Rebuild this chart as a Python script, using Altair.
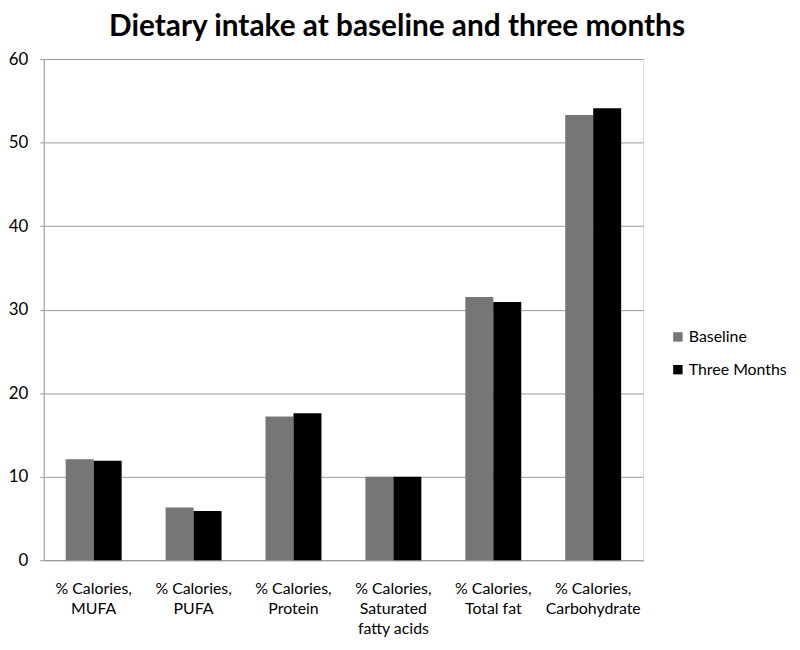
import altair as alt
import pandas as pd

categories = ["% Calories,\nMUFA", "% Calories,\nPUFA", "% Calories,\nProtein",
              "% Calories,\nSaturated\nfatty acids", "% Calories,\nTotal fat",
              "% Calories,\nCarbohydrate"]
series = ["Baseline", "Three Months"]
baseline = [12.1, 6.3, 17.2, 10.0, 31.5, 53.3]
three_months = [11.9, 5.9, 17.6, 10.0, 30.9, 54.1]

rows = []
for c, b, t in zip(categories, baseline, three_months):
    rows.append({"cat": c, "series": "Baseline", "value": b})
    rows.append({"cat": c, "series": "Three Months", "value": t})
df = pd.DataFrame(rows)

FONT = "Lato"

chart = alt.Chart(df).mark_bar().encode(
    x=alt.X("cat:N", sort=categories, title=None,
            scale=alt.Scale(paddingInner=0.44, paddingOuter=0.22),
            axis=alt.Axis(labelExpr="split(datum.label, '\\n')", labelAngle=0,
                          ticks=False, labelPadding=21, labelFontSize=16,
                          labelLineHeight=20, labelColor="#000", domainColor="#9a9a9a",
                          labelFont=FONT, labelBaseline="top")),
    xOffset=alt.XOffset("series:N", sort=series),
    y=alt.Y("value:Q", title=None,
            scale=alt.Scale(domain=[0, 60]),
            axis=alt.Axis(values=[0, 10, 20, 30, 40, 50, 60], tickSize=4, labelPadding=12,
                          labelFontSize=17, labelColor="#000", labelFont=FONT,
                          domainColor="#9a9a9a", tickColor="#9a9a9a",
                          gridColor="#9a9a9a", gridWidth=1)),
    color=alt.Color("series:N", sort=series,
                    scale=alt.Scale(domain=series, range=["#767676", "#000000"]),
                    legend=alt.Legend(title=None, orient="none", legendX=631, legendY=272,
                                      symbolType="square", symbolSize=90, labelOffset=3,
                                      labelFontSize=16, labelFont=FONT, labelColor="#000",
                                      rowPadding=17, symbolStrokeWidth=0)),
).properties(
    width=604, height=505,
    padding={"left": 0, "top": 2, "right": 5, "bottom": 5},
    title=alt.TitleParams("Dietary intake at baseline and three months",
                          fontSize=30, font=FONT, fontWeight="bold", color="#000",
                          anchor="middle", offset=8, dx=54),
).configure_view(stroke=None).configure(background="white")

chart.save("out.html", embed_options={"renderer": "svg", "actions": False})
